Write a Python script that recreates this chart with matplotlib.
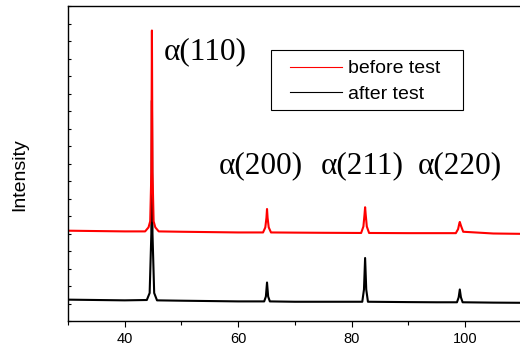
import matplotlib
matplotlib.use("Agg")
import matplotlib.pyplot as plt
from matplotlib.patches import Rectangle
from matplotlib.ticker import MultipleLocator

# 2theta (deg) / intensity (a.u.)
x_before = [30, 35, 40, 43.6, 44.2, 44.5, 44.7, 44.8, 44.9, 45.1, 45.4, 46.0, 50, 55, 60,
            64.4, 64.8, 65.0, 65.1, 65.2, 65.4, 65.8, 70, 75, 81.7, 82.1, 82.3, 82.4, 82.5,
            82.7, 83.1, 90, 95, 98.4, 98.8, 99.0, 99.1, 99.3, 99.7, 105, 110]
y_before = [5.16, 5.14, 5.12, 5.12, 5.35, 5.7, 8.5, 16.6, 8.5, 5.7, 5.35, 5.12, 5.1, 5.08, 5.06,
            5.06, 5.35, 5.9, 6.4, 5.9, 5.35, 5.06, 5.05, 5.04, 5.03, 5.4, 6.1, 6.5, 6.1,
            5.4, 5.03, 5.02, 5.02, 5.02, 5.25, 5.55, 5.66, 5.45, 5.1, 5.0, 4.98]

x_after = [30, 35, 40, 43.9, 44.4, 44.7, 44.8, 44.9, 45.2, 45.7, 50, 55, 60,
           64.6, 64.9, 65.1, 65.3, 65.6, 70, 75, 81.9, 82.2, 82.4, 82.6, 82.9, 90, 95,
           98.6, 98.9, 99.1, 99.3, 99.6, 105, 110]
y_after = [1.22, 1.2, 1.18, 1.2, 1.6, 5.0, 12.6, 5.0, 1.6, 1.18, 1.16, 1.14, 1.12,
           1.12, 1.4, 2.2, 1.4, 1.12, 1.1, 1.1, 1.1, 1.8, 3.6, 1.8, 1.1, 1.08, 1.07,
           1.07, 1.35, 1.8, 1.35, 1.07, 1.05, 1.04]

peak_labels = ["\u03b1(110)", "\u03b1(200)", "\u03b1(211)", "\u03b1(220)"]
label_x = [46.8, 56.5, 74.5, 91.6]
label_y = [14.95, 8.45, 8.45, 8.45]

fig = plt.figure(figsize=(5.2, 3.47), dpi=100)
ax = fig.add_axes([68 / 520, 1 - 321 / 347, 453.6 / 520, 315 / 347])

ax.plot(x_after, y_after, color="black", lw=1.5, label="after test")
ax.plot(x_before, y_before, color="red", lw=1.5, label="before test")

for t, lx, ly in zip(peak_labels, label_x, label_y):
    ax.text(lx, ly, t, family="Liberation Serif", fontsize=22.5, ha="left", va="baseline")

ax.set_xlim(30, 110)
ax.set_ylim(0, 18)
ax.xaxis.set_major_locator(MultipleLocator(20))
ax.xaxis.set_minor_locator(MultipleLocator(10))
ax.yaxis.set_major_locator(MultipleLocator(1))
ax.tick_params(axis="x", which="major", direction="out", length=4, width=0.8,
               labelsize=10.5, pad=4)
ax.tick_params(axis="x", which="minor", direction="out", length=3, width=0.8)
ax.tick_params(axis="y", which="major", direction="in", length=2.5, width=0.8, labelleft=False)
for lab in ax.get_xticklabels():
    lab.set_family("Liberation Sans")
ax.spines["right"].set_visible(False)
for s in ["left", "top", "bottom"]:
    ax.spines[s].set_linewidth(1.0)

ax.set_ylabel("Intensity", family="Liberation Sans", fontsize=14)
ax.yaxis.set_label_coords(-0.088, 0.4635)

# legend box drawn separately, wider padding than legend allows
ax.add_patch(Rectangle((0.4475, 0.6698), 0.4233, 0.1905, transform=ax.transAxes,
                       fill=True, facecolor="white", edgecolor="black", lw=0.8, zorder=4))
h, l = ax.get_legend_handles_labels()
leg = ax.legend(h[::-1], l[::-1], loc="upper left", bbox_to_anchor=(0.4894, 0.829),
                prop={"family": "Liberation Sans", "size": 14}, frameon=False,
                handlelength=2.7, handletextpad=0.3, labelspacing=0.4,
                borderpad=0, borderaxespad=0)
leg.set_zorder(5)
for ln in leg.get_lines():
    ln.set_linewidth(0.8)

fig.savefig("out.png", dpi=100)
